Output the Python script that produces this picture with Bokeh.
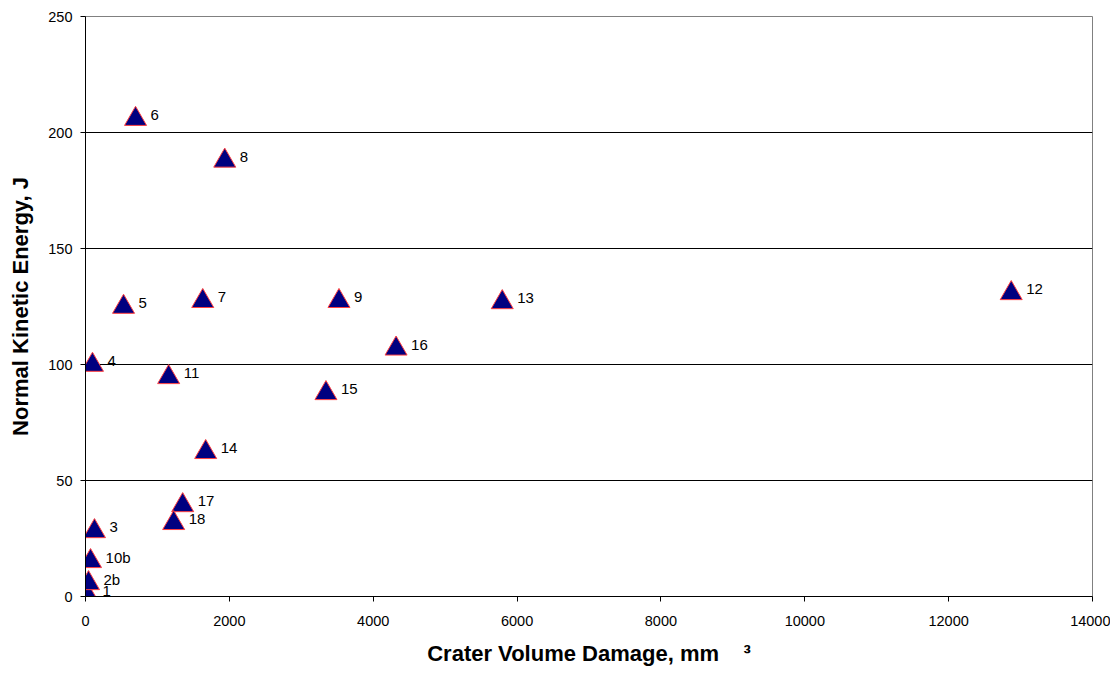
from bokeh.plotting import figure
from bokeh.models import Range1d, FixedTicker, ColumnDataSource
from bokeh.core.properties import value
from bokeh.embed import file_html
from bokeh.resources import INLINE

# ---- data ----
labels = ["1", "2b", "3", "4", "5", "6", "7", "8", "9", "10b",
          "11", "12", "13", "14", "15", "16", "17", "18"]
crater_volume = [28, 42, 125, 97, 529, 696, 1630, 1936, 3524, 70,
                 1156, 12870, 5794, 1671, 3343, 4318, 1351, 1226]
kinetic_energy = [0.5, 5.7, 28.1, 99.8, 124.8, 205.8, 127.3, 187.8, 127.3, 15.2,
                  94.5, 130.7, 126.8, 62.2, 87.6, 106.8, 39.3, 31.6]
x_ticks = [0, 2000, 4000, 6000, 8000, 10000, 12000, 14000]
y_ticks = [0, 50, 100, 150, 200, 250]
grid_ticks = [50, 100, 150, 200]

FONT = "Liberation Sans"
NBSP = "\u00a0"

src = ColumnDataSource(dict(x=crater_volume, y=kinetic_energy, lab=labels))

p = figure(frame_width=1007, frame_height=580,
           x_range=Range1d(0, 14000), y_range=Range1d(0, 250),
           output_backend="svg", toolbar_location=None,
           min_border_left=85, min_border_top=16,
           min_border_right=18, min_border_bottom=74)

p.background_fill_color = "white"
p.border_fill_color = "white"
p.outline_line_color = "#808080"
p.outline_line_width = 1

p.xgrid.visible = False
p.ygrid.ticker = FixedTicker(ticks=grid_ticks)
p.ygrid.grid_line_color = "black"
p.ygrid.grid_line_width = 1

p.xaxis.ticker = FixedTicker(ticks=x_ticks)
p.yaxis.ticker = FixedTicker(ticks=y_ticks)
for ax in (p.xaxis, p.yaxis):
    ax.axis_line_color = "black"
    ax.axis_line_width = 1
    ax.major_tick_line_color = "black"
    ax.major_tick_in = 0
    ax.major_tick_out = 5
    ax.minor_tick_line_color = None
    ax.major_label_text_font = FONT
    ax.major_label_text_font_size = "14.5px"
    ax.major_label_text_color = "black"
    ax.axis_label_text_font = FONT
    ax.axis_label_text_font_style = "bold"
    ax.axis_label_text_font_size = "22px"
    ax.axis_label_text_color = "black"

p.xaxis.major_label_standoff = 14
p.yaxis.major_label_standoff = 8
p.xaxis.axis_label = "Crater Volume Damage, mm" + NBSP * 4 + "\u00b3"
p.yaxis.axis_label = "Normal Kinetic Energy, J"
p.xaxis.axis_label_standoff = 12
p.yaxis.axis_label_standoff = 12

p.scatter("x", "y", source=src, marker="triangle", size=22,
          fill_color="#000080", line_color="#FF4040", line_width=1)

p.text("x", "y", text="lab", source=src, x_offset=15, y_offset=-4,
       text_font=value(FONT), text_font_size=value("15px"),
       text_color="black", text_baseline="middle", text_align="left")

open("out.html", "w").write(file_html(p, INLINE))
